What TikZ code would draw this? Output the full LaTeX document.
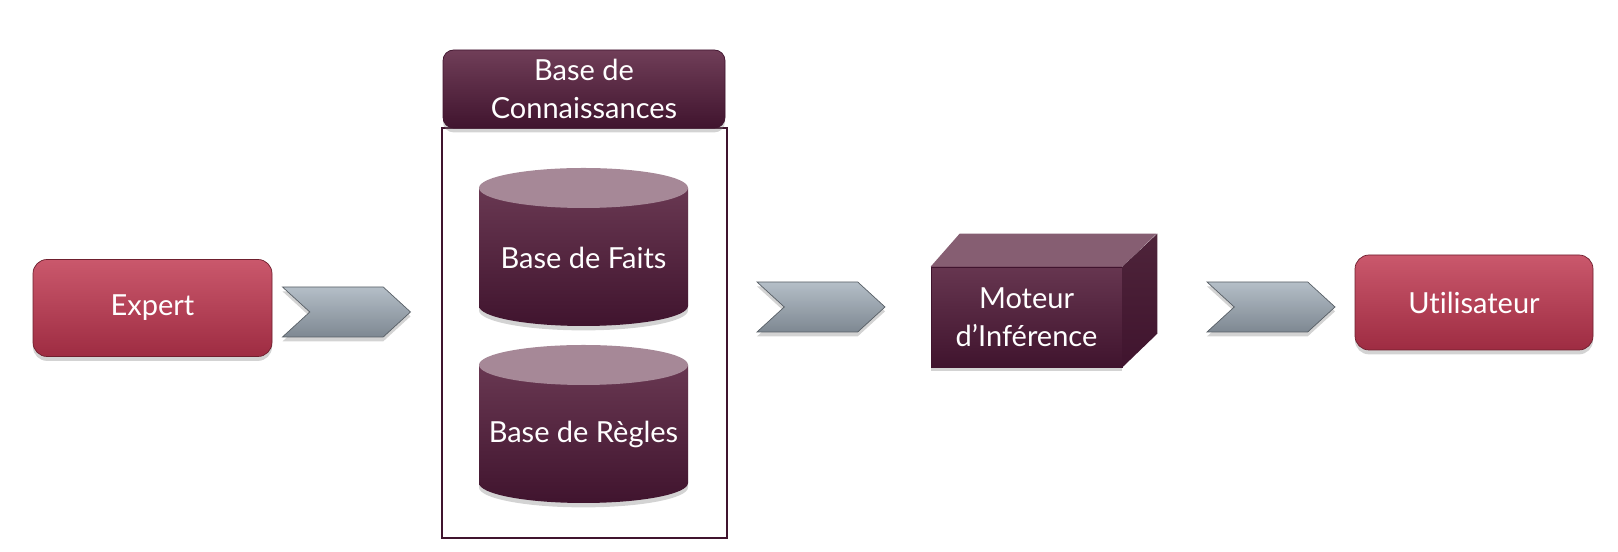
\documentclass[tikz,border=0pt]{standalone}
\usepackage{fontspec}
\setmainfont{Lato}[Ligatures={NoCommon}]
\usepackage{tikz}
\usetikzlibrary{shapes.geometric, shapes.symbols, shadows, positioning}
\definecolor{ExRed}{RGB}{202,88,108}
\definecolor{ExRedDk}{RGB}{158,44,66}
\definecolor{KbPlum}{RGB}{112,62,88}
\definecolor{KbPlumDk}{RGB}{64,20,46}
\definecolor{KbLight}{RGB}{166,136,151}
\definecolor{KbTop}{RGB}{134,94,114}
\definecolor{KbSide}{RGB}{78,36,58}
\definecolor{ChGray}{RGB}{180,190,199}
\definecolor{ChGrayDk}{RGB}{126,136,146}
\newcommand{\diagfont}{\fontsize{16.5}{21.6}\selectfont}

\begin{document}
\begin{tikzpicture}[
      soft/.style={drop shadow={shadow xshift=0pt, shadow yshift=-2.5pt,
                   opacity=0.35}},
      redbox/.style={rectangle, rounded corners=8pt, minimum width=4.78cm,
                     minimum height=1.94cm, top color=ExRed,
                     bottom color=ExRedDk, draw=ExRedDk!70!black,
                     text=white, font=\diagfont, soft},
      plumbox/.style={rectangle, top color=KbPlum, bottom color=KbPlumDk,
                      draw=KbPlumDk, text=white, font=\diagfont,
                      align=center},
      chevron/.style={signal, signal from=west, signal to=east,
                      signal pointer angle=85, minimum width=2.56cm,
                      minimum height=1cm, inner sep=0pt,
                      top color=ChGray, bottom color=ChGrayDk,
                      draw=ChGrayDk!70!black, thin, soft}
    ]
    \useasboundingbox (0,0) rectangle (32.36,11.04);

    % acteurs
    \node[redbox] (expert) at (3.05, 4.88) {Expert};
    \node[redbox, minimum width=4.76cm, minimum height=1.9cm]
          (user) at (29.48, 4.99) {Utilisateur};

    % base de connaissances
    \draw[KbPlumDk, line width=1.2pt] (8.84,8.48) rectangle (14.54,0.28);
    \node[plumbox, rounded corners=6pt, minimum width=5.64cm,
          minimum height=1.56cm, soft] (kb) at (11.68, 9.26)
          {Base de\\Connaissances};

    \foreach \nm/\yc/\txt in {faits/7.28/{Base de Faits},
                              regles/3.74/{Base de Règles}}{
      \shade[top color=KbPlum!85!KbPlumDk, bottom color=KbPlumDk, soft]
            (9.58,\yc) -- (9.58,\yc-2.36)
            arc[start angle=180, end angle=360, x radius=2.09, y radius=0.4]
            -- (13.76,\yc) -- cycle;
      \fill[KbLight] (11.67,\yc) ellipse[x radius=2.09, y radius=0.4];
      \node[text=white, font=\diagfont] (\nm) at (11.67,\yc-1.39) {\txt};
    }

    % moteur
    \node[plumbox, minimum width=3.82cm, minimum height=2cm,
          top color=KbPlum!80!KbPlumDk, soft] (moteur) at (20.53, 4.7)
          {Moteur\\d’Inférence};
    \fill[KbTop] (moteur.north west) -- ++(0.58,0.66) -- ++(3.94,0)
          -- (moteur.north east) -- cycle;
    \shade[top color=KbSide, bottom color=KbPlumDk]
          (moteur.north east) -- ++(0.7,0.66) -- ++(0,-2)
          -- (moteur.south east) -- cycle;

    % flux
    \node[chevron] (f1) at (6.93, 4.8)  {};
    \node[chevron] (f2) at (16.42, 4.9) {};
    \node[chevron] (f3) at (25.42, 4.9) {};
  \end{tikzpicture}
\end{document}
